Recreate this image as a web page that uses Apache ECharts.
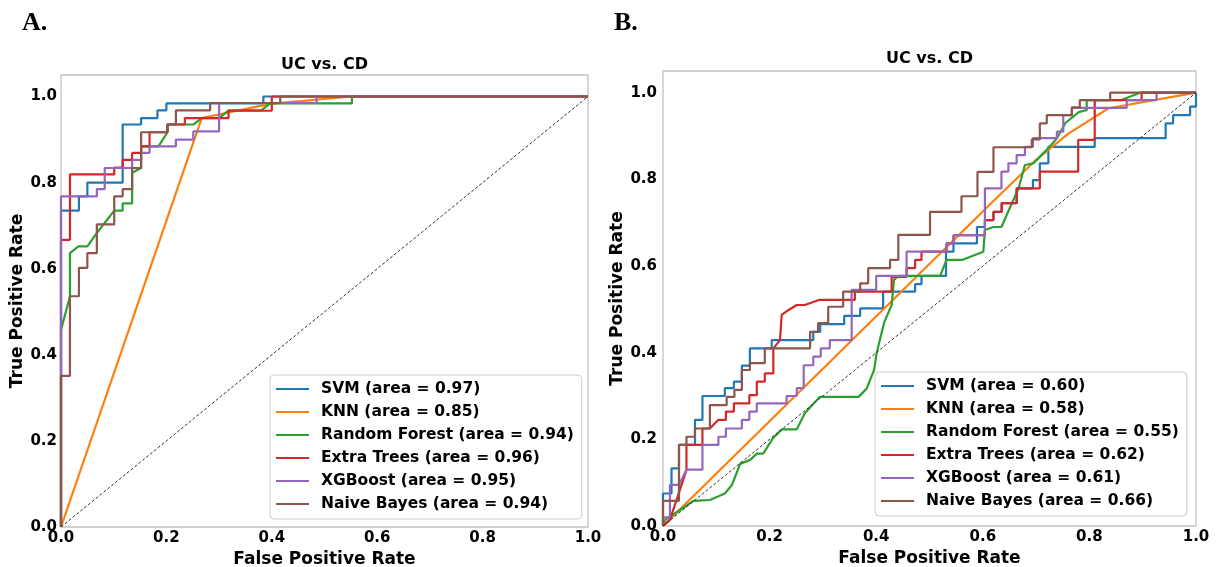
<!DOCTYPE html>
<html>
<head>
<meta charset="utf-8">
<title>UC vs. CD ROC curves</title>
<script src="https://cdn.jsdelivr.net/npm/echarts@6/dist/echarts.min.js"></script>
<style>
  html, body { margin: 0; padding: 0; background: #ffffff; }
  #chart { width: 1222px; height: 567px; }
</style>
</head>
<body>
<div id="chart"></div>
<script>
// Classifier names, colours and AUC values for both panels
const modelNames = ['SVM', 'KNN', 'Random Forest', 'Extra Trees', 'XGBoost', 'Naive Bayes'];
const modelColors = ['#1f77b4', '#ff7f0e', '#2ca02c', '#d62728', '#9467bd', '#8c564b'];
const aucA = [0.97, 0.85, 0.94, 0.96, 0.95, 0.94];
const aucB = [0.60, 0.58, 0.55, 0.62, 0.61, 0.66];
const tickValues = [0, 0.2, 0.4, 0.6, 0.8, 1.0];
const chanceLine = [[0, 0], [1, 1]];

// Panel A ROC points [false positive rate, true positive rate]
const rocA_svm = [[0,0],[0,0.735],[0.034,0.735],[0.034,0.768],[0.05,0.768],[0.05,0.80],[0.117,0.80],[0.117,0.935],[0.152,0.935],[0.152,0.95],[0.183,0.95],[0.183,0.968],[0.2,0.968],[0.2,0.984],[0.384,0.984],[0.384,1],[1,1]];
const rocA_knn = [[0,0],[0.267,0.95],[0.397,0.983],[0.552,1],[1,1]];
const rocA_rf = [[0,0],[0,0.458],[0.017,0.536],[0.017,0.636],[0.033,0.652],[0.05,0.652],[0.068,0.683],[0.101,0.735],[0.117,0.735],[0.117,0.752],[0.135,0.752],[0.135,0.823],[0.152,0.834],[0.152,0.884],[0.185,0.884],[0.202,0.917],[0.202,0.935],[0.251,0.935],[0.267,0.95],[0.30,0.95],[0.318,0.968],[0.38,0.968],[0.397,0.984],[0.552,0.984],[0.552,1],[1,1]];
const rocA_et = [[0,0],[0,0.667],[0.017,0.667],[0.017,0.819],[0.101,0.819],[0.101,0.835],[0.117,0.835],[0.117,0.853],[0.135,0.853],[0.135,0.869],[0.152,0.869],[0.152,0.884],[0.168,0.884],[0.168,0.917],[0.202,0.917],[0.202,0.935],[0.235,0.935],[0.235,0.95],[0.318,0.95],[0.318,0.967],[0.40,0.967],[0.40,1],[1,1]];
const rocA_xgb = [[0,0],[0,0.768],[0.068,0.768],[0.068,0.785],[0.083,0.785],[0.083,0.834],[0.135,0.834],[0.135,0.853],[0.152,0.853],[0.152,0.869],[0.168,0.869],[0.168,0.884],[0.218,0.884],[0.218,0.90],[0.251,0.90],[0.251,0.919],[0.30,0.919],[0.30,0.985],[0.485,0.985],[0.485,1],[1,1]];
const rocA_nb = [[0,0],[0,0.351],[0.017,0.351],[0.017,0.536],[0.034,0.536],[0.034,0.602],[0.05,0.602],[0.05,0.636],[0.068,0.636],[0.068,0.703],[0.101,0.703],[0.101,0.768],[0.117,0.768],[0.117,0.785],[0.135,0.785],[0.135,0.834],[0.152,0.834],[0.152,0.917],[0.202,0.917],[0.202,0.935],[0.218,0.935],[0.218,0.968],[0.283,0.968],[0.283,0.985],[0.416,0.985],[0.416,1],[1,1]];

// Panel B ROC points [false positive rate, true positive rate]
const rocB_svm = [[0,0],[0,0.075],[0.016,0.075],[0.016,0.133],[0.03,0.133],[0.03,0.187],[0.06,0.187],[0.06,0.245],[0.074,0.245],[0.074,0.30],[0.116,0.30],[0.116,0.318],[0.133,0.318],[0.133,0.333],[0.148,0.333],[0.148,0.37],[0.163,0.37],[0.163,0.41],[0.204,0.41],[0.204,0.429],[0.282,0.429],[0.282,0.448],[0.295,0.448],[0.295,0.466],[0.34,0.466],[0.34,0.485],[0.37,0.485],[0.37,0.502],[0.413,0.502],[0.413,0.541],[0.473,0.541],[0.473,0.558],[0.485,0.558],[0.485,0.577],[0.531,0.577],[0.531,0.633],[0.545,0.633],[0.545,0.652],[0.589,0.652],[0.589,0.69],[0.604,0.69],[0.604,0.706],[0.62,0.706],[0.62,0.725],[0.636,0.725],[0.636,0.745],[0.6635,0.745],[0.6635,0.779],[0.694,0.779],[0.694,0.798],[0.707,0.798],[0.707,0.837],[0.723,0.837],[0.723,0.875],[0.81,0.875],[0.81,0.895],[0.943,0.895],[0.943,0.929],[0.957,0.929],[0.957,0.948],[0.989,0.948],[0.989,0.968],[1,0.968],[1,1]];
const rocB_knn = [[0,0],[0.62,0.75],[0.70,0.845],[0.76,0.905],[0.836,0.964],[1,1]];
const rocB_rf = [[0,0],[0.004,0.014],[0.032,0.037],[0.057,0.058],[0.088,0.06],[0.116,0.075],[0.129,0.094],[0.145,0.144],[0.163,0.152],[0.176,0.167],[0.188,0.167],[0.207,0.204],[0.223,0.223],[0.251,0.223],[0.266,0.26],[0.294,0.298],[0.367,0.298],[0.382,0.317],[0.396,0.36],[0.401,0.40],[0.415,0.47],[0.429,0.51],[0.4334,0.568],[0.441,0.577],[0.52,0.577],[0.532,0.614],[0.561,0.614],[0.601,0.633],[0.604,0.683],[0.62,0.69],[0.635,0.69],[0.651,0.735],[0.667,0.779],[0.679,0.833],[0.695,0.837],[0.723,0.872],[0.739,0.895],[0.755,0.93],[0.78,0.955],[0.795,0.96],[0.795,0.983],[0.86,0.983],[0.895,1],[1,1]];
const rocB_et = [[0,0],[0.013,0.014],[0.044,0.129],[0.044,0.187],[0.074,0.187],[0.074,0.225],[0.088,0.225],[0.104,0.245],[0.118,0.245],[0.118,0.264],[0.133,0.264],[0.133,0.283],[0.162,0.283],[0.162,0.302],[0.176,0.302],[0.176,0.333],[0.191,0.333],[0.191,0.352],[0.207,0.352],[0.207,0.41],[0.2195,0.429],[0.2226,0.487],[0.235,0.498],[0.251,0.51],[0.266,0.51],[0.294,0.522],[0.36,0.522],[0.36,0.541],[0.429,0.541],[0.429,0.575],[0.457,0.575],[0.457,0.595],[0.473,0.595],[0.473,0.614],[0.485,0.614],[0.485,0.633],[0.532,0.633],[0.532,0.652],[0.545,0.652],[0.545,0.671],[0.604,0.671],[0.604,0.706],[0.62,0.706],[0.62,0.725],[0.635,0.725],[0.635,0.745],[0.6635,0.745],[0.6635,0.779],[0.707,0.779],[0.707,0.818],[0.779,0.818],[0.779,0.891],[0.81,0.891],[0.81,0.983],[0.898,0.983],[0.898,1],[1,1]];
const rocB_xgb = [[0,0],[0,0.02],[0.013,0.02],[0.013,0.095],[0.03,0.095],[0.044,0.13],[0.074,0.13],[0.074,0.187],[0.104,0.187],[0.104,0.206],[0.118,0.206],[0.118,0.225],[0.148,0.225],[0.148,0.245],[0.162,0.245],[0.162,0.264],[0.176,0.264],[0.176,0.283],[0.232,0.283],[0.232,0.30],[0.251,0.30],[0.251,0.318],[0.264,0.318],[0.264,0.371],[0.282,0.371],[0.282,0.391],[0.296,0.391],[0.296,0.41],[0.313,0.41],[0.313,0.429],[0.354,0.429],[0.354,0.545],[0.40,0.545],[0.40,0.577],[0.457,0.577],[0.457,0.633],[0.532,0.633],[0.532,0.652],[0.545,0.652],[0.545,0.671],[0.604,0.671],[0.604,0.779],[0.635,0.779],[0.635,0.818],[0.648,0.818],[0.648,0.837],[0.6635,0.837],[0.6635,0.856],[0.679,0.856],[0.679,0.875],[0.694,0.875],[0.694,0.895],[0.739,0.895],[0.739,0.91],[0.751,0.91],[0.751,0.948],[0.767,0.948],[0.767,0.965],[0.87,0.965],[0.87,0.983],[0.926,0.983],[0.926,1],[1,1]];
const rocB_nb = [[0,0],[0,0.058],[0.03,0.058],[0.03,0.187],[0.044,0.187],[0.044,0.206],[0.06,0.206],[0.06,0.225],[0.088,0.225],[0.088,0.279],[0.1195,0.279],[0.1195,0.298],[0.134,0.298],[0.134,0.314],[0.148,0.314],[0.148,0.36],[0.163,0.36],[0.163,0.376],[0.191,0.376],[0.191,0.41],[0.276,0.41],[0.276,0.448],[0.291,0.448],[0.291,0.468],[0.31,0.468],[0.31,0.506],[0.338,0.506],[0.338,0.541],[0.37,0.541],[0.37,0.56],[0.385,0.56],[0.385,0.595],[0.426,0.595],[0.426,0.614],[0.4415,0.614],[0.4415,0.672],[0.501,0.672],[0.501,0.725],[0.56,0.725],[0.56,0.761],[0.59,0.761],[0.59,0.817],[0.62,0.817],[0.62,0.874],[0.692,0.874],[0.692,0.892],[0.707,0.892],[0.707,0.929],[0.72,0.929],[0.72,0.948],[0.767,0.948],[0.767,0.966],[0.782,0.966],[0.782,0.983],[0.839,0.983],[0.839,1],[1,1]];

const curvesA = [rocA_svm, rocA_knn, rocA_rf, rocA_et, rocA_xgb, rocA_nb];
const curvesB = [rocB_svm, rocB_knn, rocB_rf, rocB_et, rocB_xgb, rocB_nb];

const FONT = 'DejaVu Sans';
const labelName = (name, auc) => name + ' (area = ' + auc.toFixed(2) + ')';
const namesA = modelNames.map((n, i) => labelName(n, aucA[i]));
const namesB = modelNames.map((n, i) => labelName(n, aucB[i]));

const grids = [
  { left: 61, top: 75, width: 527, height: 452 },
  { left: 663, top: 71, width: 533, height: 455 }
];

function makeXAxis(gridIndex, nameGap) {
  return {
    type: 'value', gridIndex: gridIndex, min: 0, max: 1,
    name: 'False Positive Rate', nameLocation: 'middle', nameGap: nameGap,
    nameTextStyle: { fontFamily: FONT, fontWeight: 'bold', fontSize: 17, color: '#000' },
    axisLine: { show: false }, axisTick: { show: false }, splitLine: { show: false },
    axisLabel: {
      customValues: tickValues, margin: 4,
      fontFamily: FONT, fontWeight: 'bold', fontSize: 15, color: '#000',
      formatter: v => v.toFixed(1)
    }
  };
}
function makeYAxis(gridIndex, nameGap, margin) {
  return {
    type: 'value', gridIndex: gridIndex, min: 0, max: 1.05,
    name: 'True Positive Rate', nameLocation: 'middle', nameGap: nameGap,
    nameTextStyle: { fontFamily: FONT, fontWeight: 'bold', fontSize: 17, color: '#000' },
    axisLine: { show: false }, axisTick: { show: false }, splitLine: { show: false },
    axisLabel: {
      customValues: tickValues, margin: margin,
      fontFamily: FONT, fontWeight: 'bold', fontSize: 15, color: '#000',
      formatter: v => v.toFixed(1)
    }
  };
}

const series = [];
function addPanel(curves, names, axisIndex) {
  curves.forEach((pts, i) => {
    series.push({
      type: 'line', name: names[i], data: pts,
      xAxisIndex: axisIndex, yAxisIndex: axisIndex,
      color: modelColors[i], showSymbol: false, symbol: 'none',
      lineStyle: { width: 2.2, color: modelColors[i] },
      emphasis: { disabled: true }, animation: false, z: 3
    });
  });
  series.push({
    type: 'line', data: chanceLine, xAxisIndex: axisIndex, yAxisIndex: axisIndex,
    showSymbol: false, symbol: 'none', silent: true, animation: false, z: 4,
    lineStyle: { width: 1, type: [3, 2], color: '#333' }
  });
}
addPanel(curvesA, namesA, 0);
addPanel(curvesB, namesB, 1);

function makeLegend(names, left, top) {
  return {
    data: names, orient: 'vertical', left: left, top: top,
    icon: 'rect', itemWidth: 33, itemHeight: 2, itemGap: 5,
    padding: [5, 8, 6, 6],
    backgroundColor: 'rgba(255,255,255,0.85)',
    borderColor: '#cccccc', borderWidth: 1, borderRadius: 4,
    selectedMode: false,
    textStyle: {
      fontFamily: FONT, fontWeight: 'bold', fontSize: 15.5, color: '#000',
      lineHeight: 18, padding: [0, 0, 0, 7]
    }
  };
}

const option = {
  backgroundColor: '#ffffff',
  animation: false,
  grid: grids.map(g => Object.assign({
    show: true, borderColor: '#c4c4c4', borderWidth: 1.3, backgroundColor: 'transparent',
    containLabel: false, outerBoundsMode: 'none'
  }, g)),
  xAxis: [makeXAxis(0, 15), makeXAxis(1, 15)],
  yAxis: [makeYAxis(0, 27, 4), makeYAxis(1, 28, 6)],
  legend: [makeLegend(namesA, 270, 375), makeLegend(namesB, 875, 372)],
  series: series,
  graphic: [
    { type: 'text', left: 22, top: 10, style: { text: 'A.', font: 'bold 26px "Liberation Serif"', fill: '#000' } },
    { type: 'text', left: 614, top: 10, style: { text: 'B.', font: 'bold 26px "Liberation Serif"', fill: '#000' } },
    { type: 'text', x: 324.5, y: 65, style: { text: 'UC vs. CD', font: 'bold 16px "DejaVu Sans"', fill: '#000', align: 'center', verticalAlign: 'middle' } },
    { type: 'text', x: 929.5, y: 59, style: { text: 'UC vs. CD', font: 'bold 16px "DejaVu Sans"', fill: '#000', align: 'center', verticalAlign: 'middle' } }
  ]
};

const chart = echarts.init(document.getElementById('chart'), null, { renderer: 'canvas' });
chart.setOption(option);
</script>
</body>
</html>
